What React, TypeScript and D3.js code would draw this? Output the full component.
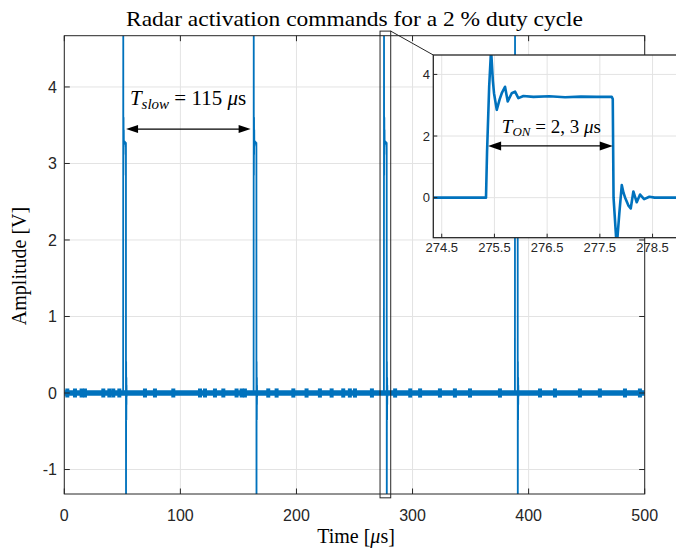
// Radar activation commands: main trace with a zoomed inset on one pulse.

import * as d3 from "d3";

// ── Data ─────────────────────────────────────────────────────────────────────

const timeTicks = [0, 100, 200, 300, 400, 500];
const ampTicks = [-1, 0, 1, 2, 3, 4];
const insetTimeTicks = [274.5, 275.5, 276.5, 277.5, 278.5];
const insetAmpTicks = [0, 2, 4];

// rise instants of each pulse [µs]
const pulseStarts = [50.7, 163.1, 275.34, 388.2];

// one pulse: [time after rise µs, amplitude V]
const pulseShape: [number, number][] = [
  [0, 0], [0.02, 1.5], [0.06, 3.6], [0.096, 4.8], [0.13, 3.8], [0.152, 3.39],
  [0.204, 2.85], [0.26, 3.2], [0.299, 3.39], [0.361, 3.6], [0.412, 3.12],
  [0.488, 3.39], [0.551, 3.44], [0.614, 3.23], [0.71, 3.3], [0.9, 3.27],
  [1.2, 3.29], [1.5, 3.26], [1.8, 3.28], [2.1, 3.27], [2.386, 3.27],
  [2.405, 3.2], [2.42, 0], [2.48, -1.6], [2.53, -0.5], [2.576, 0.41],
  [2.61, 0.15], [2.64, 0], [2.7, -0.25], [2.746, -0.35], [2.796, 0.2],
  [2.86, -0.15], [2.923, 0.1], [3.0, -0.05], [3.1, 0.03], [3.2, 0],
];

// places where the baseline noise bulges [µs]
const noiseBursts = [
  2.6, 9.2, 14.9, 17.8, 33.6, 38.8, 42.2, 47.4, 69.5, 78.1, 93.9, 116.9, 121.2,
  129.8, 137, 148.4, 152.8, 155.6, 175.7, 182.9, 197.3, 208.7, 220.2, 230.3,
  240.3, 246, 250.4, 265, 285, 298, 306.5, 323.6, 336.5, 349.5, 375.3, 409.8,
  422.7, 444.2, 461.4, 483, 495.9,
];
const noiseLevel = 0.035;
const burstLevel = 0.06;

// annotations (data coordinates)
const slowArrow = { t: [53.2, 160.5], v: 3.45 };
const slowLabel = { t: 106.6, v: 3.76 };
const onArrow = { t: [275.38, 277.745], v: 1.68 };
const onLabel = { t: 276.58, v: 2.11 };
const zoomBox = { t: [272.0, 281.2], v: [-1.37, 4.73] };

// ── Layout ───────────────────────────────────────────────────────────────────

const W = 676;
const H = 550;
const BOX = { left: 64.3, right: 644.7, top: 35.7, bottom: 494 };
const INSET = { left: 433.3, right: 678.9, top: 55, bottom: 237.7 };

const AXIS = "#262626";
const GRID = "#e3e3e3";
const BLUE = "#0072BD";
const SERIF = "'Liberation Serif', 'DejaVu Serif', serif";
const SANS = "'Liberation Sans', Arial, sans-serif";

function Arrow({ x1, x2, y, head = 12, half = 4 }: { x1: number; x2: number; y: number; head?: number; half?: number }) {
  return (
    <g>
      <line x1={x1 + head - 1} x2={x2 - head + 1} y1={y} y2={y} stroke="#000" strokeWidth={1.3} />
      <polygon points={`${x1},${y} ${x1 + head},${y - half} ${x1 + head},${y + half}`} fill="#000" />
      <polygon points={`${x2},${y} ${x2 - head},${y - half} ${x2 - head},${y + half}`} fill="#000" />
    </g>
  );
}

export default function App() {
  const x = d3.scaleLinear().domain([0, 500]).range([BOX.left, BOX.right]);
  const y = d3.scaleLinear().domain([-1.32, 4.67]).range([BOX.bottom, BOX.top]);
  const ix = d3.scaleLinear().domain([274.34, 279]).range([INSET.left, INSET.right]);
  const iy = d3.scaleLinear().domain([-1.3, 4.63]).range([INSET.bottom, INSET.top]);

  const trace: [number, number][] = [[0, 0]];
  pulseStarts.forEach((s) => pulseShape.forEach(([dt, v]) => trace.push([s + dt, v])));
  trace.push([500, 0]);

  const mainLine = d3.line<[number, number]>().x((d) => x(d[0])).y((d) => y(d[1]))(trace) ?? "";
  const insetLine = d3.line<[number, number]>().x((d) => ix(d[0])).y((d) => iy(d[1]))(trace) ?? "";
  const band = d3
    .area<number>()
    .x((d) => x(d))
    .y0(y(-noiseLevel))
    .y1(y(noiseLevel))(x.domain()) ?? "";

  const bw = BOX.right - BOX.left;
  const bh = BOX.bottom - BOX.top;
  const iw = INSET.right - INSET.left;
  const ih = INSET.bottom - INSET.top;

  return (
    <svg width={W} height={H} style={{ position: "absolute", left: 0, top: 0, background: "#fff" }}>
      <defs>
        <clipPath id="clipMain"><rect x={BOX.left} y={BOX.top} width={bw} height={bh} /></clipPath>
        <clipPath id="clipInset"><rect x={INSET.left} y={INSET.top} width={iw} height={ih} /></clipPath>
      </defs>

      {/* ── main axes ── */}
      <rect x={BOX.left} y={BOX.top} width={bw} height={bh} fill="#fff" />
      {timeTicks.map((t) => (
        <line key={`gx${t}`} x1={x(t)} x2={x(t)} y1={BOX.top} y2={BOX.bottom} stroke={GRID} />
      ))}
      {ampTicks.map((v) => (
        <line key={`gy${v}`} x1={BOX.left} x2={BOX.right} y1={y(v)} y2={y(v)} stroke={GRID} />
      ))}

      <g clipPath="url(#clipMain)">
        <path d={band} fill={BLUE} />
        {noiseBursts.map((t) => (
          <line key={`nb${t}`} x1={x(t)} x2={x(t)} y1={y(-burstLevel)} y2={y(burstLevel)} stroke={BLUE} strokeWidth={4} />
        ))}
        <path d={mainLine} fill="none" stroke={BLUE} strokeWidth={1.8} strokeLinejoin="round" />
      </g>

      <rect x={BOX.left} y={BOX.top} width={bw} height={bh} fill="none" stroke={AXIS} strokeWidth={1} />
      {timeTicks.map((t) => (
        <g key={`tx${t}`}>
          <line x1={x(t)} x2={x(t)} y1={BOX.bottom} y2={BOX.bottom - 5.5} stroke={AXIS} />
          <line x1={x(t)} x2={x(t)} y1={BOX.top} y2={BOX.top + 5.5} stroke={AXIS} />
          <text x={x(t)} y={521} textAnchor="middle" fontFamily={SANS} fontSize={16} fill={AXIS}>{t}</text>
        </g>
      ))}
      {ampTicks.map((v) => (
        <g key={`ty${v}`}>
          <line x1={BOX.left} x2={BOX.left + 5.5} y1={y(v)} y2={y(v)} stroke={AXIS} />
          <line x1={BOX.right} x2={BOX.right - 5.5} y1={y(v)} y2={y(v)} stroke={AXIS} />
          <text x={57} y={y(v)} dy="0.36em" textAnchor="end" fontFamily={SANS} fontSize={16} fill={AXIS}>{v}</text>
        </g>
      ))}

      {/* T_slow annotation */}
      <text x={x(slowLabel.t)} y={y(slowLabel.v)} textAnchor="middle" fontFamily={SERIF} fontSize={21} fill="#000">
        <tspan fontStyle="italic">T</tspan>
        <tspan fontStyle="italic" fontSize={15} dy={4}>slow</tspan>
        <tspan dy={-4}> = 115 </tspan>
        <tspan fontStyle="italic">μ</tspan>
        <tspan>s</tspan>
      </text>
      <Arrow x1={x(slowArrow.t[0])} x2={x(slowArrow.t[1])} y={y(slowArrow.v)} />

      {/* zoom box and connector */}
      <rect
        x={x(zoomBox.t[0])}
        y={y(zoomBox.v[1])}
        width={x(zoomBox.t[1]) - x(zoomBox.t[0])}
        height={y(zoomBox.v[0]) - y(zoomBox.v[1])}
        fill="none"
        stroke={AXIS}
        strokeWidth={1}
      />
      <line x1={x(zoomBox.t[1])} y1={y(zoomBox.v[1])} x2={INSET.left} y2={INSET.top} stroke={AXIS} strokeWidth={1} />

      {/* ── inset ── */}
      <rect x={INSET.left} y={INSET.top} width={iw} height={ih} fill="#fff" />
      {insetTimeTicks.map((t) => (
        <line key={`igx${t}`} x1={ix(t)} x2={ix(t)} y1={INSET.top} y2={INSET.bottom} stroke={GRID} />
      ))}
      {insetAmpTicks.map((v) => (
        <line key={`igy${v}`} x1={INSET.left} x2={INSET.right} y1={iy(v)} y2={iy(v)} stroke={GRID} />
      ))}
      <g clipPath="url(#clipInset)">
        <path d={insetLine} fill="none" stroke={BLUE} strokeWidth={2.6} strokeLinejoin="round" />
      </g>
      <rect x={INSET.left} y={INSET.top} width={iw} height={ih} fill="none" stroke={AXIS} strokeWidth={1.3} />
      {insetTimeTicks.map((t) => (
        <g key={`itx${t}`}>
          <line x1={ix(t)} x2={ix(t)} y1={INSET.bottom} y2={INSET.bottom - 4} stroke={AXIS} />
          <text x={ix(t)} y={252} textAnchor="middle" fontFamily={SANS} fontSize={13} fill={AXIS}>{d3.format(".1f")(t)}</text>
        </g>
      ))}
      {insetAmpTicks.map((v) => (
        <g key={`ity${v}`}>
          <line x1={INSET.left} x2={INSET.left + 4} y1={iy(v)} y2={iy(v)} stroke={AXIS} />
          <text x={430} y={iy(v)} dy="0.36em" textAnchor="end" fontFamily={SANS} fontSize={13} fill={AXIS}>{v}</text>
        </g>
      ))}

      {/* T_ON annotation */}
      <text x={ix(onLabel.t)} y={iy(onLabel.v)} textAnchor="middle" fontFamily={SERIF} fontSize={19} fill="#000">
        <tspan fontStyle="italic">T</tspan>
        <tspan fontStyle="italic" fontSize={13} dy={3.5}>ON</tspan>
        <tspan dy={-3.5}> = 2, 3 </tspan>
        <tspan fontStyle="italic">μ</tspan>
        <tspan>s</tspan>
      </text>
      <Arrow x1={ix(onArrow.t[0])} x2={ix(onArrow.t[1])} y={iy(onArrow.v)} head={13} half={4.5} />

      {/* ── titles ── */}
      <text x={354.5} y={26} textAnchor="middle" fontFamily={SERIF} fontSize={21} fill="#000" textLength={457} lengthAdjust="spacingAndGlyphs">
        Radar activation commands for a 2 % duty cycle
      </text>
      <text x={356} y={543} textAnchor="middle" fontFamily={SERIF} fontSize={20} fill="#000">
        Time [<tspan fontStyle="italic">μ</tspan>s]
      </text>
      <text transform="translate(26,266) rotate(-90)" textAnchor="middle" fontFamily={SERIF} fontSize={20} fill="#000">
        Amplitude [V]
      </text>
    </svg>
  );
}
